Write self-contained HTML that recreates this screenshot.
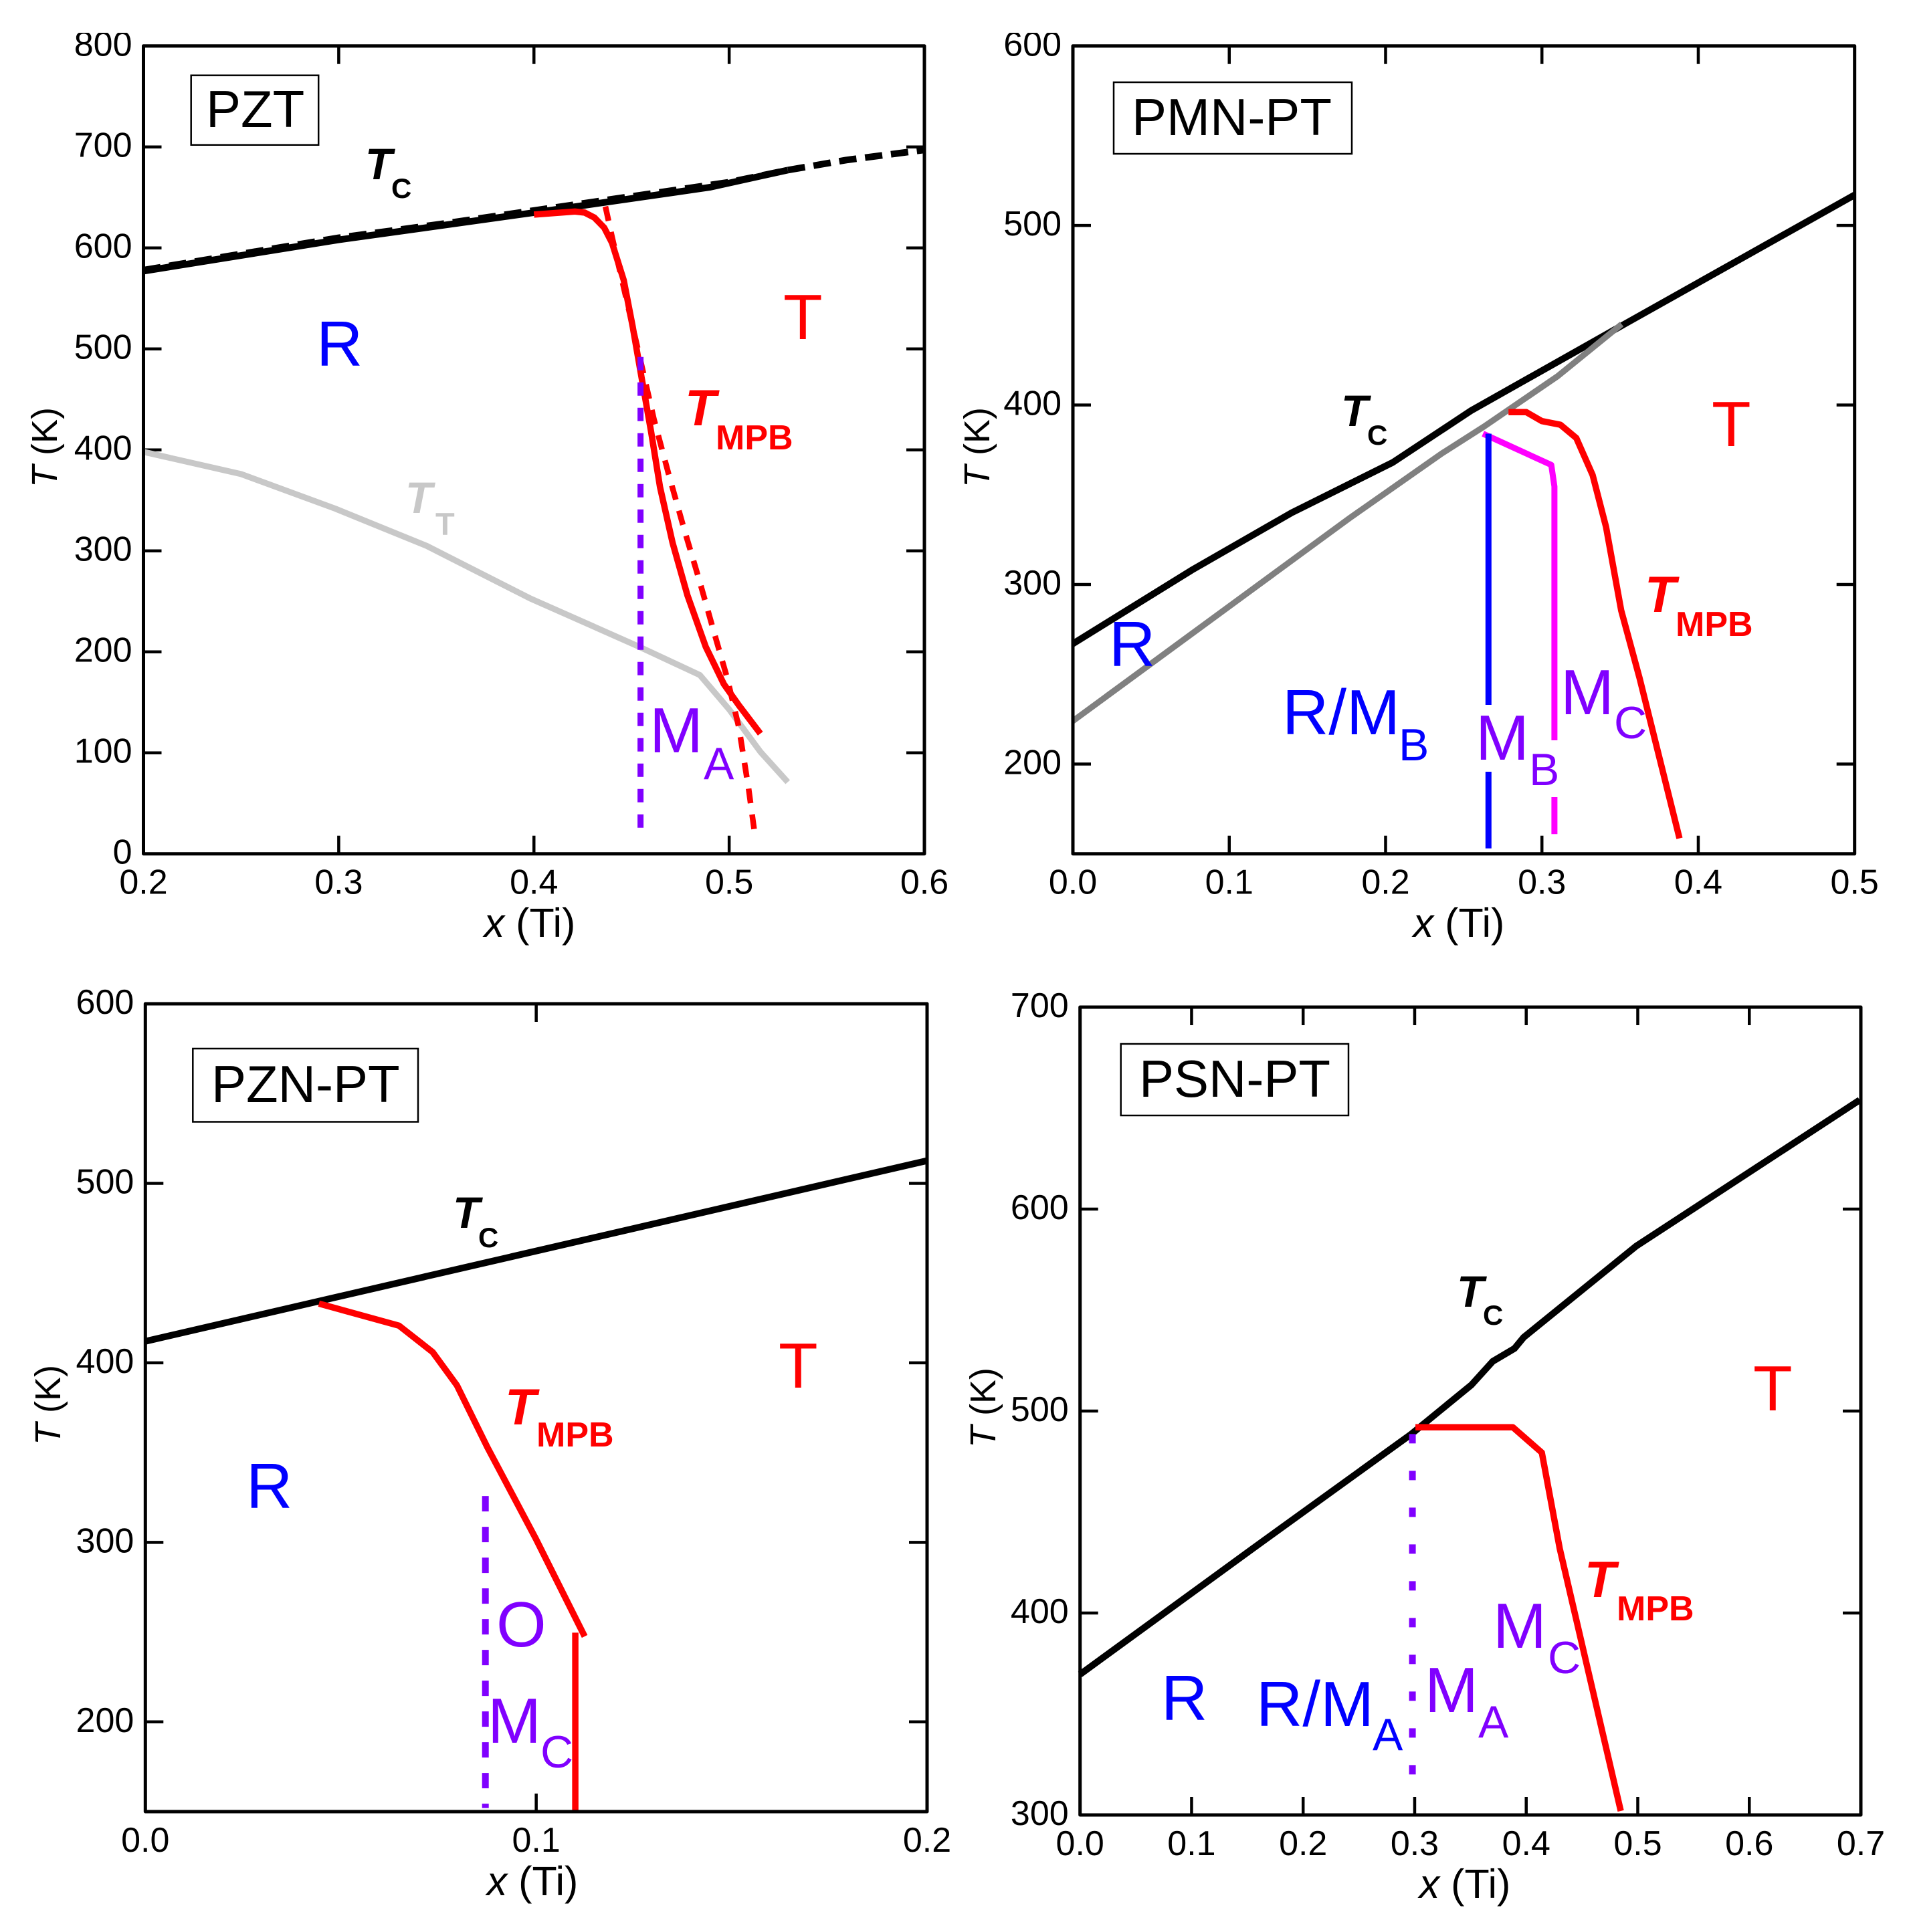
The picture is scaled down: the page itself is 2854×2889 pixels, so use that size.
<!DOCTYPE html>
<html lang="en">
<head>
<meta charset="utf-8">
<title>Phase diagrams of PZT, PMN-PT, PZN-PT and PSN-PT</title>
<style>
html,body{margin:0;padding:0;background:#fff}
svg{display:block}
text{font-family:"Liberation Sans",Arial,sans-serif}
.lab{font-size:96px}
.sub{font-size:68px}
.box{font-size:78px}
.tb{font-size:66px;font-weight:bold;font-style:italic}
.ts{font-size:42px;font-weight:bold}
.mb{font-size:76px;font-weight:bold;font-style:italic;fill:#f00}
.ms{font-size:52px;font-weight:bold;fill:#f00}
.blue{fill:#00f}.red{fill:#f00}.vio{fill:#8000ff}
</style>
</head>
<body>
<svg id="figure" xmlns="http://www.w3.org/2000/svg" width="2854" height="2889" viewBox="0 0 2854 2889">
<rect width="2854" height="2889" fill="#fff"/>

<g id="pzt"></g>
<g id="pmn"></g>
<g id="pzn"></g>
<g id="psn"></g>

<rect x="0" y="0" width="2854" height="49" fill="#fff"/>

<g>
  <rect x="285.7" y="112.7" width="190.5" height="104" fill="#fff" stroke="#000" stroke-width="2.5"/>
  <text class="box" x="308" y="190">PZT</text>
  <text class="tb" x="546" y="268">T</text>
  <text class="ts" x="585" y="296">C</text>
  <text class="tb" x="606" y="767" fill="#c8c8c8">T</text>
  <text x="651" y="800" font-size="47" font-weight="bold" fill="#c8c8c8">T</text>
  <text class="mb" x="1024" y="636">T</text>
  <text class="ms" x="1070" y="672">MPB</text>
  <text class="lab blue" x="473" y="547">R</text>
  <text class="lab red" x="1171" y="507">T</text>
  <text class="lab vio" x="971" y="1125">M</text>
  <text class="sub vio" x="1052" y="1165">A</text>
</g>

<g>
  <rect x="1665" y="123" width="356" height="107" fill="#fff" stroke="#000" stroke-width="2.5"/>
  <text class="box" x="1692" y="202">PMN-PT</text>
  <text class="tb" x="2005" y="637">T</text>
  <text class="ts" x="2044" y="665">C</text>
  <text class="mb" x="2459" y="915">T</text>
  <text class="ms" x="2505" y="951">MPB</text>
  <text class="lab blue" x="1658" y="996">R</text>
  <text class="lab red" x="2559" y="667">T</text>
  <text class="lab blue" x="1917" y="1098">R/M</text>
  <text class="sub blue" x="2091" y="1137">B</text>
  <rect x="2205" y="1054" width="75" height="100" fill="#fff"/>
  <rect x="2285" y="1107" width="50" height="85" fill="#fff"/>
  <text class="lab vio" x="2206" y="1136">M</text>
  <text class="sub vio" x="2286" y="1174">B</text>
  <text class="lab vio" x="2333" y="1068">M</text>
  <text class="sub vio" x="2413" y="1104">C</text>
</g>

<g>
  <rect x="288.3" y="1568" width="336.7" height="109.5" fill="#fff" stroke="#000" stroke-width="2.5"/>
  <text class="box" x="316" y="1648">PZN-PT</text>
  <text class="tb" x="677" y="1836">T</text>
  <text class="ts" x="715" y="1865">C</text>
  <text class="mb" x="755" y="2130">T</text>
  <text class="ms" x="802" y="2163">MPB</text>
  <text class="lab blue" x="368" y="2255">R</text>
  <text class="lab red" x="1164" y="2075">T</text>
  <text class="lab vio" x="742" y="2462">O</text>
  <text class="lab vio" x="729" y="2606">M</text>
  <text class="sub vio" x="808" y="2643">C</text>
</g>

<g>
  <rect x="1675.7" y="1561" width="340.3" height="107" fill="#fff" stroke="#000" stroke-width="2.5"/>
  <text class="box" x="1703" y="1640">PSN-PT</text>
  <text class="tb" x="2178" y="1954">T</text>
  <text class="ts" x="2217" y="1981">C</text>
  <text class="mb" x="2369" y="2388">T</text>
  <text class="ms" x="2417" y="2423">MPB</text>
  <text class="lab blue" x="1736" y="2572">R</text>
  <text class="lab red" x="2621" y="2109">T</text>
  <text class="lab blue" x="1878" y="2581">R/M</text>
  <text class="sub blue" x="2052" y="2617">A</text>
  <text class="lab vio" x="2130" y="2560">M</text>
  <text class="sub vio" x="2210" y="2598">A</text>
  <text class="lab vio" x="2232" y="2464">M</text>
  <text class="sub vio" x="2314" y="2502">C</text>
</g>
</svg>

<script>
// PZT data
const pztXTicks = [0.2, 0.3, 0.4, 0.5, 0.6];
const pztYTicks = [0, 100, 200, 300, 400, 500, 600, 700, 800];
const pztTcDashX = [0.2, 0.25, 0.3, 0.35, 0.4, 0.45, 0.5, 0.53, 0.56, 0.6];
const pztTcDashT = [578, 594, 610, 623, 637, 651, 665, 677, 687, 697];
const pztTcX = [0.2, 0.3, 0.4, 0.49, 0.53];
const pztTcT = [577, 608, 635, 660, 677];
const pztTtX = [0.2, 0.25, 0.298, 0.345, 0.398, 0.454, 0.485, 0.5, 0.516, 0.53];
const pztTtT = [398, 376, 342, 305, 253, 205, 177, 143, 101, 71];
const pztMpbDashX = [0.4366, 0.44, 0.455, 0.4615, 0.469, 0.477, 0.485, 0.4926, 0.499, 0.505, 0.51, 0.513];
const pztMpbDashT = [641, 611, 485, 430, 376, 321, 269, 217, 174, 125, 64, 21];
const pztMpbX = [0.4, 0.421, 0.426, 0.431, 0.436, 0.44, 0.446, 0.4506, 0.455, 0.46, 0.4646, 0.471, 0.4786, 0.488, 0.4973, 0.505, 0.516];
const pztMpbT = [633, 636, 635, 630, 620, 605, 568, 522, 473, 418, 363, 308, 256, 205, 168, 147, 119];
const pztMaX = [0.4546, 0.4546];
const pztMaT = [492, 24];

// PMN-PT data
const pmnXTicks = [0, 0.1, 0.2, 0.3, 0.4, 0.5];
const pmnYTicks = [200, 300, 400, 500, 600];
const pmnTcX = [0, 0.076, 0.14, 0.2046, 0.255, 0.3527, 0.5];
const pmnTcT = [267, 308, 340, 368, 397, 445, 517];
const pmnGrayX = [0, 0.177, 0.236, 0.263, 0.31, 0.351];
const pmnGrayT = [224, 337, 373, 388, 416, 445];
const pmnMpbX = [0.2786, 0.29, 0.3, 0.3118, 0.322, 0.3324, 0.341, 0.3507, 0.3624, 0.388];
const pmnMpbT = [396, 396, 391, 389, 381.6, 361, 332, 285.6, 248, 158.6];
const pmnMagentaX = [0.2623, 0.306, 0.308, 0.308];
const pmnMagentaT = [384, 366.6, 354.6, 161];
const pmnBlueX = [0.2658, 0.2658];
const pmnBlueT = [384, 153];

// PZN-PT data
const pznXTicks = [0, 0.1, 0.2];
const pznYTicks = [200, 300, 400, 500, 600];
const pznTcX = [0, 0.2];
const pznTcT = [412, 512.6];
const pznMpbX = [0.0444, 0.0649, 0.0735, 0.0797, 0.0875, 0.0999, 0.1124];
const pznMpbT = [433, 420.7, 406, 387.5, 353, 302, 247.6];
const pznMcX = [0.11, 0.11];
const pznMcT = [249.7, 150];
const pznODashX = [0.087, 0.087];
const pznODashT = [325.8, 152];

// PSN-PT data
const psnXTicks = [0, 0.1, 0.2, 0.3, 0.4, 0.5, 0.6, 0.7];
const psnYTicks = [300, 400, 500, 600, 700];
const psnTcX = [0, 0.155, 0.297, 0.351, 0.37, 0.3895, 0.3977, 0.4984, 0.699];
const psnTcT = [369.6, 432, 488.6, 513, 524.6, 531, 536.5, 581.6, 654];
const psnMpbX = [0.3007, 0.388, 0.414, 0.43, 0.4848];
const psnMpbT = [492, 492, 479.4, 432, 302];
const psnMaX = [0.298, 0.298];
const psnMaT = [488.6, 319];

const SVGNS = 'http://www.w3.org/2000/svg';

function scale(d0, d1, p0, p1) {
  return function (v) { return p0 + (v - d0) / (d1 - d0) * (p1 - p0); };
}

function shape(parent, tag, name, attrs) {
  const el = document.createElementNS(SVGNS, tag);
  
  
  for (const k in attrs) el.setAttribute(k, attrs[k]);
  parent.appendChild(el);
  return el;
}

function series(parent, name, xs, ts, sx, sy, color, width, dash, cap) {
  const pts = xs.map(function (x, i) { return sx(x).toFixed(1) + ',' + sy(ts[i]).toFixed(1); }).join(' ');
  const attrs = { points: pts, fill: 'none', stroke: color, 'stroke-width': width, 'stroke-linejoin': 'round', 'stroke-linecap': cap || 'butt' };
  if (dash) attrs['stroke-dasharray'] = dash;
  return shape(parent, 'polyline', name, attrs);
}

function label(parent, name, str, x, y, anchor, extra) {
  const attrs = { x: x, y: y, 'text-anchor': anchor, 'font-size': 52, fill: '#000' };
  for (const k in (extra || {})) attrs[k] = extra[k];
  const el = shape(parent, 'text', name, attrs);
  el.textContent = str;
  return el;
}

function axes(id, prefix, L, R, T, B, xd, yd, xTicks, yTicks, xAxisLabel, yAxisLabel) {
  const g = document.getElementById(id);
  const sx = scale(xd[0], xd[1], L, R);
  const sy = scale(yd[0], yd[1], B, T);
  xTicks.forEach(function (v) {
    const px = sx(v);
    if (v > xd[0] && v < xd[1]) {
      shape(g, 'line', prefix + '-x-tick-bottom', { x1: px, x2: px, y1: B, y2: B - 27, stroke: '#000', 'stroke-width': 4.5 });
      shape(g, 'line', prefix + '-x-tick-top', { x1: px, x2: px, y1: T, y2: T + 27, stroke: '#000', 'stroke-width': 4.5 });
    }
    label(g, prefix + '-x-tick-label', v.toFixed(1), px, B + 60, 'middle');
  });
  yTicks.forEach(function (v) {
    const py = sy(v);
    if (v > yd[0] && v < yd[1]) {
      shape(g, 'line', prefix + '-y-tick-left', { x1: L, x2: L + 27, y1: py, y2: py, stroke: '#000', 'stroke-width': 4.5 });
      shape(g, 'line', prefix + '-y-tick-right', { x1: R, x2: R - 27, y1: py, y2: py, stroke: '#000', 'stroke-width': 4.5 });
    }
    label(g, prefix + '-y-tick-label', String(v), L - 17, py + 15, 'end');
  });
  const xl = shape(g, 'text', prefix + '-x-axis-title', { x: xAxisLabel[0], y: xAxisLabel[1], 'text-anchor': 'middle', 'font-size': 61 });
  const xi = document.createElementNS(SVGNS, 'tspan');
  xi.setAttribute('font-style', 'italic');
  xi.textContent = 'x';
  xl.appendChild(xi);
  xl.appendChild(document.createTextNode(' (Ti)'));
  const yl = shape(g, 'text', prefix + '-y-axis-title', { 'text-anchor': 'middle', 'font-size': 54, transform: 'translate(' + yAxisLabel[0] + ',' + yAxisLabel[1] + ') rotate(-90)' });
  const yi = document.createElementNS(SVGNS, 'tspan');
  yi.setAttribute('font-style', 'italic');
  yi.textContent = 'T';
  yl.appendChild(yi);
  yl.appendChild(document.createTextNode(' (K)'));
  return { g: g, sx: sx, sy: sy, L: L, R: R, T: T, B: B, prefix: prefix };
}

function frame(p) {
  shape(p.g, 'rect', p.prefix + '-plot-frame', { x: p.L, y: p.T, width: p.R - p.L, height: p.B - p.T, fill: 'none', stroke: '#000', 'stroke-width': 5, 'stroke-linejoin': 'round' });
}

// PZT panel
const pA = axes('pzt', 'pzt', 214.5, 1382, 68.7, 1276.7, [0.2, 0.6], [0, 800], pztXTicks, pztYTicks, [792, 1401], [85, 669]);
series(pA.g, 'pzt-tt-curve', pztTtX, pztTtT, pA.sx, pA.sy, '#c8c8c8', 9);
series(pA.g, 'pzt-tc-dashed-curve', pztTcDashX, pztTcDashT, pA.sx, pA.sy, '#000', 10, '26 13');
series(pA.g, 'pzt-tc-curve', pztTcX, pztTcT, pA.sx, pA.sy, '#000', 10);
series(pA.g, 'pzt-tmpb-dashed-curve', pztMpbDashX, pztMpbDashT, pA.sx, pA.sy, '#f00', 8.5, '22 17');
series(pA.g, 'pzt-tmpb-curve', pztMpbX, pztMpbT, pA.sx, pA.sy, '#f00', 9.5);
series(pA.g, 'pzt-ma-boundary', pztMaX, pztMaT, pA.sx, pA.sy, '#8000ff', 9, '20 18');
frame(pA);

// PMN-PT panel
const pB = axes('pmn', 'pmn-pt', 1604, 2772.7, 68.7, 1276.7, [0, 0.5], [150, 600], pmnXTicks, pmnYTicks, [2181, 1401], [1479, 669]);
series(pB.g, 'pmn-pt-tc-curve', pmnTcX, pmnTcT, pB.sx, pB.sy, '#000', 10);
series(pB.g, 'pmn-pt-gray-curve', pmnGrayX, pmnGrayT, pB.sx, pB.sy, '#808080', 9);
series(pB.g, 'pmn-pt-tmpb-curve', pmnMpbX, pmnMpbT, pB.sx, pB.sy, '#f00', 9.5);
series(pB.g, 'pmn-pt-mc-boundary', pmnMagentaX, pmnMagentaT, pB.sx, pB.sy, '#f0f', 9);
series(pB.g, 'pmn-pt-mb-boundary', pmnBlueX, pmnBlueT, pB.sx, pB.sy, '#00f', 9);
frame(pB);

// PZN-PT panel
const pC = axes('pzn', 'pzn-pt', 217.3, 1386, 1501, 2709, [0, 0.2], [150, 600], pznXTicks, pznYTicks, [796, 2834], [90, 2101]);
series(pC.g, 'pzn-pt-tc-curve', pznTcX, pznTcT, pC.sx, pC.sy, '#000', 10);
series(pC.g, 'pzn-pt-tmpb-curve', pznMpbX, pznMpbT, pC.sx, pC.sy, '#f00', 9.5);
series(pC.g, 'pzn-pt-mc-boundary', pznMcX, pznMcT, pC.sx, pC.sy, '#f00', 9.5);
series(pC.g, 'pzn-pt-o-boundary', pznODashX, pznODashT, pC.sx, pC.sy, '#8000ff', 10, '23 23');
frame(pC);

// PSN-PT panel
const pD = axes('psn', 'psn-pt', 1614.7, 2782, 1506, 2714, [0, 0.7], [300, 700], psnXTicks, psnYTicks, [2190, 2838], [1488, 2105]);
series(pD.g, 'psn-pt-tc-curve', psnTcX, psnTcT, pD.sx, pD.sy, '#000', 10);
series(pD.g, 'psn-pt-tmpb-curve', psnMpbX, psnMpbT, pD.sx, pD.sy, '#f00', 9.5);
series(pD.g, 'psn-pt-ma-boundary', psnMaX, psnMaT, pD.sx, pD.sy, '#8000ff', 10, '14 41');
frame(pD);
</script>
</body>
</html>
